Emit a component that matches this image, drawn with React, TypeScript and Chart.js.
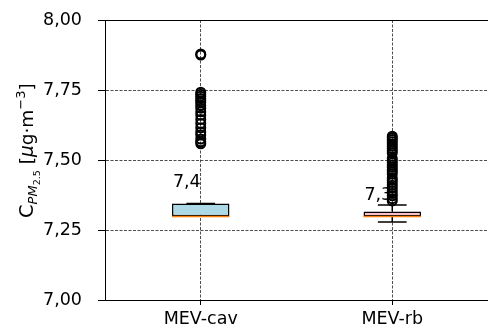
import React, { useEffect, useRef } from 'react';
import { Chart, registerables } from 'chart.js';

Chart.register(...registerables);

const categories = ['MEV-cav', 'MEV-rb'];
const q1 = [7.299, 7.2985];
const q3 = [7.345, 7.316];
const medians = [7.298, 7.2985];
const whiskerLow = [7.299, 7.279];
const whiskerHigh = [7.345, 7.339];
const boxColors = ['#add8e6', '#ffc0cb'];
const outliersCav = [7.875, 7.879, 7.742, 7.735, 7.728, 7.72, 7.712, 7.705, 7.695, 7.685, 7.672, 7.66, 7.645, 7.63, 7.615, 7.6, 7.59, 7.575, 7.565, 7.558];
const outliersRb = [7.354, 7.362, 7.372, 7.38, 7.39, 7.4, 7.41, 7.42, 7.428, 7.436, 7.45, 7.458, 7.466, 7.474, 7.482, 7.49, 7.498, 7.506, 7.525, 7.533, 7.541, 7.549, 7.557, 7.565, 7.572, 7.579, 7.585];
const meanLabels = ['7,4', '7,3'];
const meanLabelY = [7.402, 7.357];
const yMin = 7.0;
const yMax = 8.0;
const yStep = 0.25;

const FONT = "'DejaVu Sans', sans-serif";

const boxPlugin = {
  id: 'boxExtras',
  beforeDatasetsDraw(chart: any) {
    const { ctx, scales } = chart;
    const x = scales.x;
    const y = scales.y;
    ctx.save();
    ctx.fillStyle = '#000';
    ctx.font = `17.5px ${FONT}`;
    ctx.textAlign = 'right';
    ctx.textBaseline = 'alphabetic';
    categories.forEach((_, i) => {
      ctx.fillText(meanLabels[i], x.getPixelForValue(i), y.getPixelForValue(meanLabelY[i]));
    });
    ctx.restore();
  },
  afterDatasetsDraw(chart: any) {
    const { ctx, scales } = chart;
    const x = scales.x;
    const y = scales.y;
    const meta = chart.getDatasetMeta(1);
    ctx.save();
    categories.forEach((_, i) => {
      const cx = x.getPixelForValue(i);
      const bar = meta.data[i];
      const halfBox = bar ? bar.width / 2 : 29;
      const capHalf = halfBox / 2;
      ctx.strokeStyle = '#000';
      ctx.lineWidth = 1.5;
      ctx.setLineDash([]);
      const yq1 = y.getPixelForValue(q1[i]);
      const yq3 = y.getPixelForValue(q3[i]);
      const ylo = y.getPixelForValue(whiskerLow[i]);
      const yhi = y.getPixelForValue(whiskerHigh[i]);
      ctx.beginPath();
      ctx.moveTo(cx, yq1);
      ctx.lineTo(cx, ylo);
      ctx.moveTo(cx, yq3);
      ctx.lineTo(cx, yhi);
      ctx.moveTo(cx - capHalf, ylo);
      ctx.lineTo(cx + capHalf, ylo);
      ctx.moveTo(cx - capHalf, yhi);
      ctx.lineTo(cx + capHalf, yhi);
      ctx.stroke();
      ctx.strokeStyle = '#ff7f0e';
      ctx.lineWidth = 1.5;
      const ym = y.getPixelForValue(medians[i]);
      ctx.beginPath();
      ctx.moveTo(cx - halfBox, ym);
      ctx.lineTo(cx + halfBox, ym);
      ctx.stroke();
    });
    ctx.restore();
  },
  afterDraw(chart: any) {
    const { ctx, chartArea } = chart;
    ctx.save();
    ctx.strokeStyle = '#000';
    ctx.lineWidth = 1;
    ctx.setLineDash([]);
    ctx.beginPath();
    ctx.moveTo(chartArea.left, chartArea.top + 0.5);
    ctx.lineTo(chartArea.right, chartArea.top + 0.5);
    ctx.stroke();
    ctx.restore();

    ctx.save();
    ctx.fillStyle = '#000';
    ctx.translate(33, 218);
    ctx.rotate(-Math.PI / 2);
    ctx.textBaseline = 'alphabetic';
    ctx.textAlign = 'left';
    const parts: [string, string, number][] = [
      ['C', `19.5px ${FONT}`, 0],
      ['PM', `italic 13px ${FONT}`, 4],
      ['2.5', `9.5px ${FONT}`, 7],
      [' [', `18.5px ${FONT}`, 0],
      ['\u03bc', `italic 18.5px ${FONT}`, 0],
      ['g\u00b7m', `18.5px ${FONT}`, 0],
      ['\u22123', `13px ${FONT}`, -8],
      [']', `18.5px ${FONT}`, 0],
    ];
    let px = 0;
    for (const [t, f, dy] of parts) {
      ctx.font = f;
      ctx.fillText(t, px, dy);
      px += ctx.measureText(t).width;
    }
    ctx.restore();
  },
};

export default function App() {
  const ref = useRef<HTMLCanvasElement>(null);
  useEffect(() => {
    if (!ref.current) return;
    const outlierData = [
      ...outliersCav.map((v) => ({ x: categories[0], y: v })),
      ...outliersRb.map((v) => ({ x: categories[1], y: v })),
    ];
    const chart = new Chart(ref.current, {
      type: 'bar',
      data: {
        labels: categories,
        datasets: [
          {
            type: 'scatter',
            label: 'outliers',
            data: outlierData as any,
            pointStyle: 'circle',
            pointRadius: 4.5,
            pointBorderWidth: 2,
            pointBackgroundColor: 'rgba(0,0,0,0)',
            pointBorderColor: '#000',
            showLine: false,
          } as any,
          {
            type: 'bar',
            label: 'box',
            data: categories.map((_, i) => [q1[i], q3[i]]) as any,
            backgroundColor: boxColors,
            borderColor: '#000',
            borderWidth: 1.5,
            borderSkipped: false,
            barPercentage: 1,
            categoryPercentage: 0.3,
          } as any,
        ],
      },
      options: {
        animation: false,
        responsive: false,
        devicePixelRatio: 1,
        layout: { autoPadding: false, padding: { top: 20, right: 0, left: 0, bottom: 0 } },
        plugins: { legend: { display: false }, tooltip: { enabled: false } },
        scales: {
          x: {
            type: 'category',
            offset: true,
            afterFit: (s: any) => {
              s.height = 34;
              s.paddingLeft = 0;
              s.paddingRight = 0;
            },
            grid: {
              offset: false,
              color: '#222',
              lineWidth: 0.8,
              tickLength: 5,
              tickColor: '#000',
              tickWidth: 1,
              tickBorderDash: [],
            } as any,
            border: { display: true, color: '#000', width: 1, dash: [3, 1.5] },
            ticks: { color: '#000', font: { family: FONT, size: 17.5 }, padding: 4 },
          },
          y: {
            type: 'linear',
            min: yMin,
            max: yMax,
            afterFit: (s: any) => {
              s.width = 105;
              s.paddingTop = 0;
              s.paddingBottom = 0;
            },
            grid: {
              color: '#222',
              lineWidth: 0.8,
              tickLength: 7,
              tickColor: '#000',
              tickWidth: 1,
              tickBorderDash: [],
            } as any,
            border: { display: true, color: '#000', width: 1, dash: [3, 1.5] },
            ticks: {
              stepSize: yStep,
              color: '#000',
              font: { family: FONT, size: 17.5 },
              padding: 16,
              callback: (v: any) => Number(v).toFixed(2).replace('.', ','),
            },
          },
        },
      },
      plugins: [boxPlugin],
    });
    return () => chart.destroy();
  }, []);
  return (
    <div style={{ position: 'absolute', left: 0, top: 0, width: 488, height: 334, background: '#fff' }}>
      <canvas ref={ref} width={488} height={334} style={{ display: 'block' }} />
    </div>
  );
}
